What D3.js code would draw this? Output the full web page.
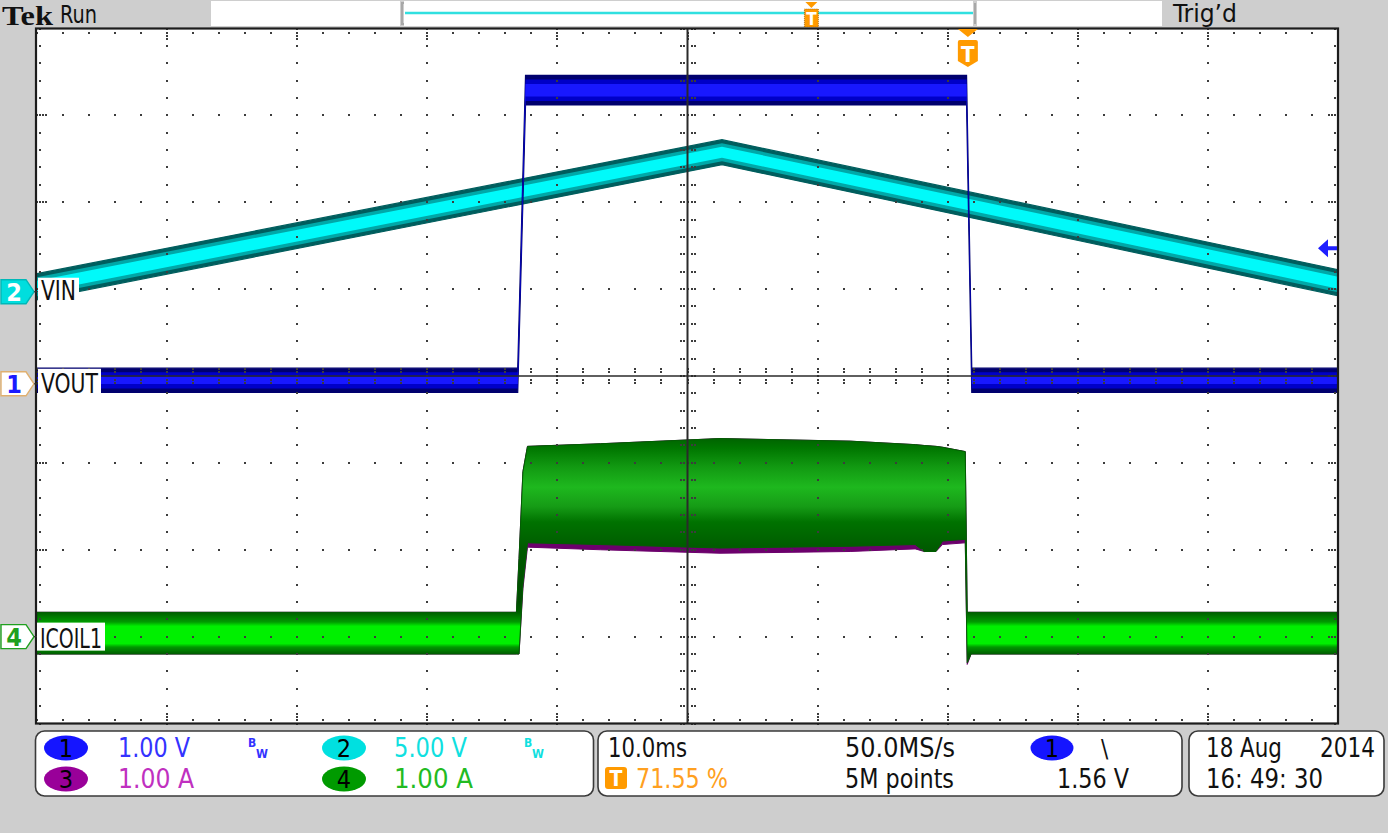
<!DOCTYPE html>
<html><head><meta charset="utf-8">
<script src="https://cdn.jsdelivr.net/npm/d3@7"></script>
<style>
html,body{margin:0;padding:0;background:#cecece;overflow:hidden}
svg{display:block}
text{font-family:"DejaVu Sans Condensed","Liberation Sans Narrow","DejaVu Sans",sans-serif;font-stretch:condensed}
</style></head><body>
<svg id="c" width="1388" height="833"></svg>
<script>
// ================= DATA =================
// time axis: 10 divisions x 10.0 ms, trigger at 71.55 %
const timeDomainMs = [0, 100];
const triggerPct = 71.55;
const timebaseLabel = "10.0ms";
const sampleRateLabel = "50.0MS/s";
const recordLabel = "5M points";
const triggerLevelV = 1.56;
const dateLabel = "18 Aug";
const yearLabel = "2014";
const clockLabel = "16: 49: 30";

// channel settings
const channelIds = ["1", "2", "3", "4"];
const channelScale = [1.00, 5.00, 1.00, 1.00];   // per division
const channelUnit = ["V", "V", "A", "A"];
const channelPosDiv = [-0.09, 0.97, -3.0, -3.0]; // ground marker position (div)
const channelLabel = ["VOUT", "VIN", "", "ICOIL1"];
const channelBw = [true, true, false, false];

// CH1 VOUT (V) envelope
const ch1Time = [0, 36.95, 37.55, 71.45, 71.85, 100];
const ch1Max  = [0.18, 0.18, 3.55, 3.55, 0.18, 0.18];
const ch1Min  = [-0.10, -0.10, 3.21, 3.21, -0.10, -0.10];

// CH2 VIN (V) envelope
const ch2Time = [0, 52.65, 100];
const ch2Max  = [1.04, 8.75, 1.27];
const ch2Min  = [-0.46, 7.31, -0.23];

// CH4 ICOIL1 (A) envelope
const ch4Time = [0, 36.85, 37.05, 37.35, 37.7, 43.3, 52.5, 62.5, 67.5, 68.2, 69.1, 69.6, 71.35, 71.5, 71.8, 100];
const ch4Max  = [0.28, 0.28, 0.90, 1.90, 2.19, 2.22, 2.28, 2.25, 2.21, 2.20, 2.19, 2.18, 2.13, 0.28, 0.28, 0.28];
const ch4Min  = [-0.20, -0.20, -0.20, 0.60, 1.08, 1.06, 1.02, 1.04, 1.06, 0.98, 0.98, 1.10, 1.12, -0.30, -0.20, -0.20];

// CH3 (A) envelope, mostly hidden under CH4
const ch3Time = [0, 36.85, 37.05, 37.35, 37.7, 43.3, 52.5, 62.5, 67.5, 68.2, 69.1, 69.6, 71.35, 71.5, 71.8, 100];
const ch3Max  = [0.28, 0.28, 0.90, 1.90, 2.19, 2.22, 2.28, 2.25, 2.21, 2.20, 2.19, 2.18, 2.13, 0.28, 0.28, 0.28];
const ch3Min  = [-0.20, -0.20, -0.20, 0.55, 1.03, 1.00, 0.96, 0.98, 1.01, 0.98, 0.98, 1.06, 1.08, -0.32, -0.20, -0.20];

// ================= DRAW =================
const svg = d3.select("#c");
const P = {x0: 37, x1: 1338, y0: 28.5, y1: 723.5};
const x = d3.scaleLinear().domain(timeDomainMs).range([P.x0, P.x1]);
const yDiv = d3.scaleLinear().domain([-4, 4]).range([P.y1, P.y0]);
const chY = i => v => yDiv(channelPosDiv[i] + v / channelScale[i]);
const y1 = chY(0), y2 = chY(1), y3 = chY(2), y4 = chY(3);

const colors = {
  ch1: ["#00006e", "#0000c8", "#1818ff"],
  ch2: ["#005e5e", "#00a8a8", "#00fafa"],
  ch3: "#6c006c",
  orange: "#ff9a00"
};

// background
svg.append("rect").attr("width", 1388).attr("height", 833).attr("fill", "#cecece");
svg.append("rect").attr("x", P.x0 - 1).attr("y", P.y0).attr("width", P.x1 - P.x0 + 1).attr("height", P.y1 - P.y0).attr("fill", "#fff");

const traces = svg.append("g");
function pts(t, mx, mn) { return t.map((d, i) => ({t: d, max: mx[i], min: mn[i]})); }
function band(data, ys, inset) {
  return d3.area().x(d => x(d.t)).y0(d => ys(d.min) - inset).y1(d => ys(d.max) + inset)(data);
}
function layered(data, ys, cols, insets) {
  traces.append("path").attr("d", band(data, ys, 0)).attr("fill", cols[0]).attr("stroke", cols[0]).attr("stroke-width", 1.2);
  traces.append("path").attr("d", band(data, ys, insets[0])).attr("fill", cols[1]);
  traces.append("path").attr("d", band(data, ys, insets[1])).attr("fill", cols[2]);
}
// CH2 VIN
layered(pts(ch2Time, ch2Max, ch2Min), y2, colors.ch2, [3.5, 7]);
// CH1 VOUT
layered(pts(ch1Time, ch1Max, ch1Min), y1, colors.ch1, [4, 8.5]);
// CH3
traces.append("path").attr("d", band(pts(ch3Time, ch3Max, ch3Min), y3, 0)).attr("fill", colors.ch3).attr("stroke", colors.ch3).attr("stroke-width", 1);
// CH4 with intensity gradient
const stops4 = [[2.40, "#005000"], [2.17, "#007600"], [1.95, "#129a12"], [1.72, "#1eb81e"], [1.50, "#169c16"], [1.32, "#007200"], [0.98, "#005800"], [0.40, "#004c00"], [0.28, "#005e00"], [0.17, "#009a00"], [0.12, "#00f000"], [-0.08, "#00f000"], [-0.12, "#009800"], [-0.20, "#005c00"], [-0.36, "#004800"]];
const gTop = y4(stops4[0][0]), gBot = y4(stops4[stops4.length - 1][0]);
const grad = svg.append("defs").append("linearGradient").attr("id", "g4").attr("gradientUnits", "userSpaceOnUse")
  .attr("x1", 0).attr("x2", 0).attr("y1", gTop).attr("y2", gBot);
stops4.forEach(s => grad.append("stop").attr("offset", (y4(s[0]) - gTop) / (gBot - gTop)).attr("stop-color", s[1]));
traces.append("path").attr("d", band(pts(ch4Time, ch4Max, ch4Min), y4, 0)).attr("fill", "url(#g4)").attr("stroke", "#006000").attr("stroke-width", 1);

// grid
const grid = svg.append("g").attr("fill", "#3c3c3c");
const dot = (cx, cy) => grid.append("rect").attr("x", Math.round(cx) - 1).attr("y", Math.round(cy) - 1).attr("width", 2).attr("height", 2);
const minorT = d3.range(0, 100.01, 2);
const minorD = d3.range(-4, 4.001, 0.2);
for (let k = 1; k < 10; k++) {
  if (k === 5) continue;
  minorD.forEach(d => dot(x(k * 10), yDiv(d)));
}
for (let j = -3; j <= 3; j++) {
  if (j === 0) continue;
  minorT.forEach(t => dot(x(t), yDiv(j)));
}
// border ticks
minorT.forEach(t => { dot(x(t), P.y0 + 4); dot(x(t), P.y1 - 4); });
minorD.forEach(d => { dot(P.x0 + 3, yDiv(d)); dot(P.x1 - 3, yDiv(d)); });
d3.range(1, 10).forEach(k => { [7, 10].forEach(o => { dot(x(k * 10), P.y0 + o); dot(x(k * 10), P.y1 - o); }); });
d3.range(-3, 4).forEach(j => { [6, 9].forEach(o => { dot(P.x0 + o, yDiv(j)); dot(P.x1 - o, yDiv(j)); }); });
// center lines
svg.append("line").attr("x1", x(50)).attr("x2", x(50)).attr("y1", P.y0).attr("y2", P.y1).attr("stroke", "#2a2a2a").attr("stroke-width", 2);
svg.append("line").attr("x1", P.x0).attr("x2", P.x1).attr("y1", yDiv(0)).attr("y2", yDiv(0)).attr("stroke", "#2a2a2a").attr("stroke-width", 1.5);
minorD.forEach(d => { [-7, -4, 4, 7].forEach(o => dot(x(50) + o, yDiv(d))); });
minorT.forEach(t => { [-7, -4, 4, 7].forEach(o => dot(x(t), yDiv(0) + o)); });

// frame
svg.append("rect").attr("x", P.x0 - 1).attr("y", P.y0).attr("width", P.x1 - P.x0 + 1).attr("height", P.y1 - P.y0)
  .attr("fill", "none").attr("stroke", "#1c1c1c").attr("stroke-width", 2.2);

// text helper
function txt(s, tx, ty, o = {}) {
  const t = svg.append("text").attr("x", tx).attr("y", ty).text(s)
    .attr("font-size", o.size || 26).attr("fill", o.fill || "#111");
  if (o.len) t.attr("textLength", o.len).attr("lengthAdjust", "spacingAndGlyphs");
  if (o.anchor) t.attr("text-anchor", o.anchor);
  if (o.weight) t.attr("font-weight", o.weight);
  if (o.family) t.style("font-family", o.family);
  return t;
}

// channel markers + labels
function marker(yc, fill, stroke, digit, digitFill) {
  svg.append("path").attr("d", `M1,${yc - 12} H26 L34,${yc} L26,${yc + 12} H1 Z`)
    .attr("fill", fill).attr("stroke", stroke).attr("stroke-width", 1.4);
  txt(digit, 14, yc + 9, {size: 25, fill: digitFill, anchor: "middle", weight: "bold"});
  svg.append("line").attr("x1", 34).attr("x2", 38).attr("y1", yc).attr("y2", yc).attr("stroke", "#333").attr("stroke-width", 1.2);
}
marker(y2(0), "#00dede", "#00b8b8", channelIds[1], "#fff");
marker(y1(0), "#fff", "#e0b070", channelIds[0], "#1a1aff");
marker(y4(0), "#fff", "#1fa01f", channelIds[3], "#1fa01f");
function label(s, lx, ly, w, h) {
  svg.append("rect").attr("x", lx).attr("y", ly).attr("width", w).attr("height", h).attr("fill", "#fff");
  txt(s, lx + 3, ly + h - 3, {size: 26, len: w - 6});
}
label(channelLabel[1], 38, y2(0) - 14, 41, 25);
label(channelLabel[0], 38, y1(0) - 15, 63, 27);
label(channelLabel[3], 37, y4(0) - 14, 68, 28);

// trigger level arrow (ch1)
const ta = y1(triggerLevelV);
svg.append("path").attr("d", `M1318,${ta} L1328,${ta - 9} L1328,${ta - 2} L1337,${ta - 2} L1337,${ta + 2} L1328,${ta + 2} L1328,${ta + 9} Z`).attr("fill", "#1f1fff");

// trigger position marker in plot
const tx = x(triggerPct);
svg.append("path").attr("d", `M${tx - 10},29 L${tx + 10},29 L${tx},37 Z`).attr("fill", colors.orange);
svg.append("path").attr("d", `M${tx - 10},42 Q${tx - 10},40 ${tx - 8},40 L${tx + 8},40 Q${tx + 10},40 ${tx + 10},42 L${tx + 10},61 L${tx},67 L${tx - 10},61 Z`).attr("fill", colors.orange);
txt("T", tx, 62, {size: 22, fill: "#fff", anchor: "middle", weight: "bold"});

// header
txt("Tek", 2, 25, {size: 28, weight: "bold", len: 51, family: "'Liberation Serif','DejaVu Serif',serif", fill: "#111"});
txt("Run", 60, 23, {size: 25, len: 37});
svg.append("rect").attr("x", 211).attr("y", 1).attr("width", 189).attr("height", 25).attr("fill", "#fff");
svg.append("rect").attr("x", 404).attr("y", 1).attr("width", 569).attr("height", 25).attr("fill", "#fff");
svg.append("rect").attr("x", 977).attr("y", 1).attr("width", 185).attr("height", 25).attr("fill", "#fff");
[[400, 1], [973, -1]].forEach(([bx, dir]) => {
  svg.append("path").attr("d", `M${bx + 3 + dir},3 H${bx + 2} V24 H${bx + 3 + dir}`).attr("fill", "none").attr("stroke", "#a8a8a8").attr("stroke-width", 2);
});
const rx0 = 405, rx1 = 973;
svg.append("line").attr("x1", rx0).attr("x2", rx1).attr("y1", 13).attr("y2", 13).attr("stroke", "#30e0e0").attr("stroke-width", 2.5);
const htx = rx0 + (rx1 - rx0) * triggerPct / 100;
svg.append("path").attr("d", `M${htx - 6},2 L${htx + 6},2 L${htx},8 Z`).attr("fill", colors.orange);
svg.append("rect").attr("x", htx - 7).attr("y", 9).attr("width", 14).attr("height", 18).attr("fill", colors.orange).attr("stroke", "#7a4a00").attr("stroke-width", 0.6).attr("stroke-dasharray", "1,1");
txt("T", htx, 25, {size: 17, fill: "#fff", anchor: "middle", weight: "bold"});
txt("Trig\u2019d", 1173, 22, {size: 25, len: 64});

// info boxes
function box(bx, bw) {
  svg.append("rect").attr("x", bx).attr("y", 731).attr("width", bw).attr("height", 65).attr("rx", 9)
    .attr("fill", "#fff").attr("stroke", "#3a3a3a").attr("stroke-width", 1.6);
}
box(35.5, 558);
box(598, 584);
box(1189, 195);
const fmt = d3.format(".2f");
const ellColors = ["#1515ff", "#00e0e0", "#990099", "#009a00"];
const txtColors = ["#3333ff", "#10e0e0", "#c030c0", "#22bb22"];
const cellX = [66, 344, 66, 344], cellY = [748, 748, 779, 779];
const valX = [118, 394, 118, 394];
const valLen = [72, 73, 76, 79];
channelIds.forEach((id, i) => {
  svg.append("ellipse").attr("cx", cellX[i]).attr("cy", cellY[i]).attr("rx", 22).attr("ry", 12.5).attr("fill", ellColors[i]);
  txt(id, cellX[i], cellY[i] + 9, {size: 25, anchor: "middle", fill: "#000"});
  txt(fmt(channelScale[i]) + " " + channelUnit[i], valX[i], cellY[i] + 9, {fill: txtColors[i], len: valLen[i]});
  if (channelBw[i]) {
    const bx = valX[i] + 130;
    txt("B", bx, cellY[i] - 1, {size: 12, fill: txtColors[i], weight: "bold"});
    txt("W", bx + 8, cellY[i] + 10, {size: 12, fill: txtColors[i], weight: "bold"});
  }
});
txt(timebaseLabel, 608, 757, {len: 79});
txt(sampleRateLabel, 845, 757, {len: 110});
svg.append("ellipse").attr("cx", 1052).attr("cy", 748).attr("rx", 21.5).attr("ry", 12.5).attr("fill", "#1515ff");
txt(channelIds[0], 1052, 757, {size: 25, anchor: "middle", fill: "#000"});
txt("\\", 1101, 757, {size: 24});
svg.append("rect").attr("x", 605).attr("y", 767).attr("width", 22).attr("height", 22).attr("rx", 3).attr("fill", colors.orange);
txt("T", 616, 786, {size: 21, fill: "#fff", anchor: "middle", weight: "bold"});
txt(fmt(triggerPct) + " %", 636, 788, {fill: "#ffa020", len: 92});
txt(recordLabel, 845, 788, {len: 109});
txt(fmt(triggerLevelV) + " V", 1057, 788, {len: 72});
txt(dateLabel, 1206, 757, {len: 76});
txt(yearLabel, 1320, 757, {len: 55});
txt(clockLabel, 1206, 788, {len: 117});
</script>
</body></html>
